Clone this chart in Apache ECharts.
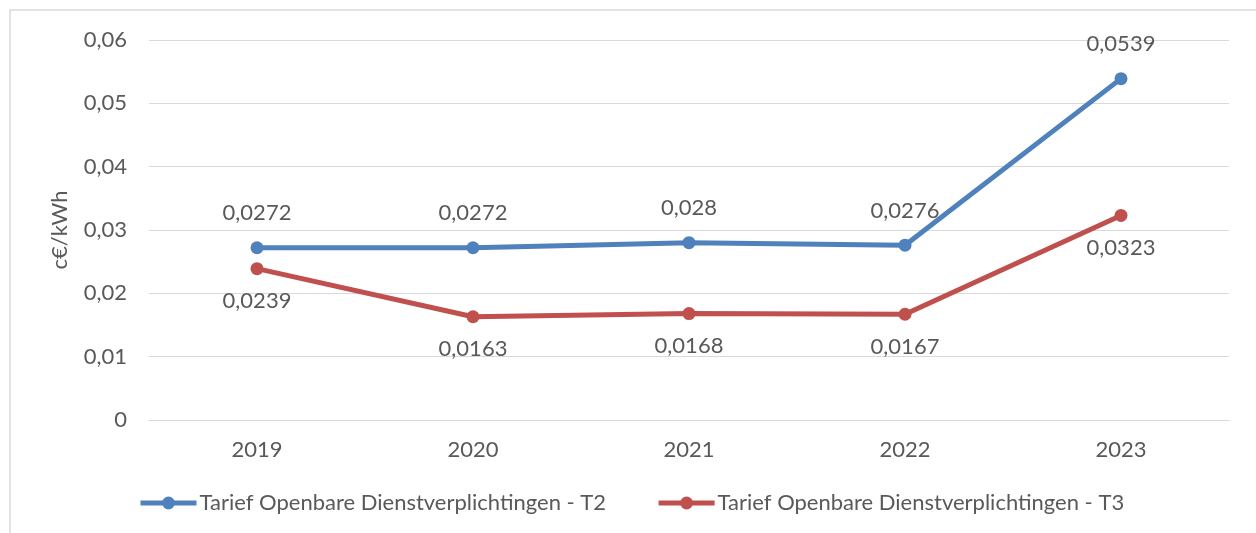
<!DOCTYPE html>
<html>
<head>
<meta charset="utf-8">
<script src="https://cdn.jsdelivr.net/npm/echarts@6/dist/echarts.min.js"></script>
<style>
html, body { margin: 0; padding: 0; background: #fff; }
#chart { width: 1256px; height: 533px; }
</style>
</head>
<body>
<div id="chart"></div>
<script>
// Chart data
const years = ['2019', '2020', '2021', '2022', '2023'];
const tariefT2 = [0.0272, 0.0272, 0.028, 0.0276, 0.0539];
const tariefT3 = [0.0239, 0.0163, 0.0168, 0.0167, 0.0323];
const seriesNames = ['Tarief Openbare Dienstverplichtingen - T2', 'Tarief Openbare Dienstverplichtingen - T3'];

const textColor = '#595959';
const fontFamily = 'Lato, "Open Sans", sans-serif';
const fontSize = 22;

function commaNum(v) {
    return String(v).replace('.', ',');
}

const chart = echarts.init(document.getElementById('chart'), null, {
    devicePixelRatio: 1,
    renderer: 'canvas'
});

function makeSeries(name, data, color, labelPos, dist) {
    return {
        name: name,
        type: 'line',
        data: data,
        symbol: 'circle',
        symbolSize: 13,
        lineStyle: { color: color, width: 5 },
        itemStyle: { color: color },
        label: {
            show: true,
            position: labelPos,
            distance: dist,
            color: textColor,
            fontSize: fontSize,
            fontFamily: fontFamily,
            formatter: p => commaNum(p.value)
        }
    };
}

const chartOptions = {
    animation: false,
    graphic: [{
        type: 'rect',
        shape: { x: 10, y: 10, width: 1300, height: 600 },
        style: { fill: 'none', stroke: '#d9d9d9', lineWidth: 1.5 },
        silent: true
    }],
    grid: {
        left: 149,
        right: 27,
        top: 40,
        bottom: 113
    },
    legend: {
        left: 138,
        top: 492,
        padding: 0,
        itemWidth: 56,
        itemHeight: 16,
        itemGap: 50,
        lineStyle: { width: 5 },
        textStyle: { color: textColor, fontSize: fontSize, fontFamily: fontFamily, padding: [0, 0, 0, -2] },
        data: seriesNames
    },
    xAxis: {
        type: 'category',
        data: years,
        boundaryGap: true,
        axisLine: { show: true, lineStyle: { color: '#d9d9d9', width: 1 } },
        axisTick: { show: false },
        axisLabel: { color: textColor, fontSize: fontSize, fontFamily: fontFamily, margin: 19 }
    },
    yAxis: {
        type: 'value',
        min: 0,
        max: 0.06,
        interval: 0.01,
        name: 'c€/kWh',
        nameLocation: 'middle',
        nameGap: 78,
        nameRotate: 90,
        nameTextStyle: { color: textColor, fontSize: fontSize, fontFamily: fontFamily },
        axisLine: { show: false },
        axisTick: { show: false },
        axisLabel: {
            color: textColor, fontSize: fontSize, fontFamily: fontFamily, margin: 22,
            formatter: v => v === 0 ? '0' : v.toFixed(2).replace('.', ',')
        },
        splitLine: { lineStyle: { color: '#d9d9d9', width: 1 } }
    },
    series: [
        makeSeries(seriesNames[0], tariefT2, '#4f81bd', 'top', 17),
        makeSeries(seriesNames[1], tariefT3, '#c0504d', 'bottom', 15)
    ]
};

chart.setOption(chartOptions, true);
</script>
</body>
</html>
